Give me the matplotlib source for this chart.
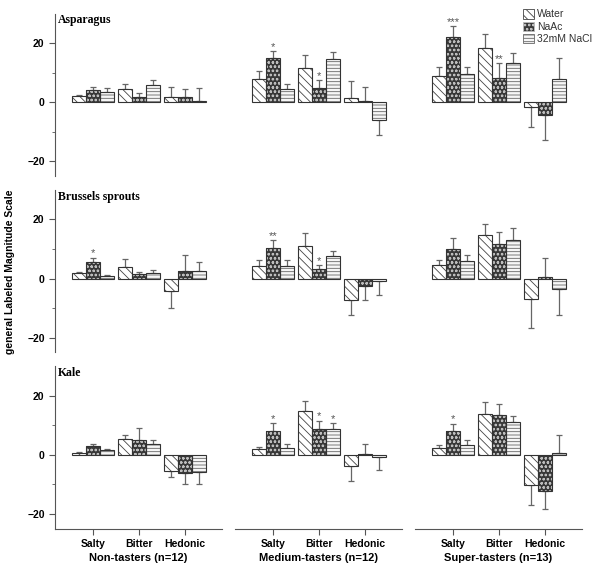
import matplotlib
matplotlib.use("Agg")
import matplotlib.pyplot as plt
from matplotlib.patches import Patch
import numpy as np

# data: [taster group][taste][solution]  solution order: Water, NaAc, 32mM NaCl
VEGETABLES = ["Asparagus", "Brussels sprouts", "Kale"]
TASTER_GROUPS = ["Non-tasters (n=12)", "Medium-tasters (n=12)", "Super-tasters (n=13)"]
TASTES = ["Salty", "Bitter", "Hedonic"]
SOLUTIONS = ["Water", "NaAc", "32mM NaCl"]

asparagus_mean = [[[1.9, 4.1, 3.3], [4.5, 1.8, 5.9], [1.6, 1.7, 0.5]],
                  [[7.7, 14.8, 4.3], [11.6, 4.7, 14.5], [1.5, 0.4, -5.9]],
                  [[8.9, 22.0, 9.4], [18.2, 8.2, 13.1], [-1.8, -4.4, 7.7]]]
asparagus_err = [[[0.5, 1.1, 1.6], [1.5, 1.4, 1.6], [3.6, 2.6, 4.4]],
                 [[2.8, 2.5, 1.7], [4.3, 2.8, 2.6], [5.7, 4.8, 5.3]],
                 [[3.1, 3.8, 2.6], [4.9, 4.9, 3.6], [6.8, 8.3, 7.3]]]
asparagus_sig = [[["", "", ""], ["", "", ""], ["", "", ""]],
                 [["", "*", ""], ["", "*", ""], ["", "", ""]],
                 [["", "***", ""], ["", "**", ""], ["", "", ""]]]

brussels_mean = [[[1.9, 5.5, 0.7], [4.0, 1.6, 1.7], [-4.3, 2.7, 2.5]],
                 [[4.4, 10.4, 4.2], [11.0, 3.3, 7.6], [-7.3, -2.6, -0.7]],
                 [[4.7, 10.1, 5.9], [14.9, 11.8, 13.2], [-7.1, 0.6, -3.7]]]
brussels_err = [[[0.4, 1.6, 0.4], [2.7, 0.7, 1.3], [5.6, 5.4, 3.1]],
                [[1.7, 2.6, 2.2], [4.5, 1.2, 1.7], [5.2, 4.7, 4.9]],
                [[1.7, 3.5, 2.2], [3.6, 4.0, 3.8], [9.8, 6.3, 8.6]]]
brussels_sig = [[["", "*", ""], ["", "", ""], ["", "", ""]],
                [["", "**", ""], ["", "*", ""], ["", "", ""]],
                [["", "", ""], ["", "", ""], ["", "", ""]]]

kale_mean = [[[0.8, 2.9, 1.6], [5.4, 5.2, 3.7], [-5.5, -6.1, -5.9]],
             [[2.0, 8.0, 2.4], [15.0, 8.7, 8.8], [-3.6, 0.2, -0.8]],
             [[2.3, 8.0, 3.2], [14.0, 13.4, 11.2], [-10.1, -12.1, 0.8]]]
kale_err = [[[0.3, 0.9, 0.5], [1.5, 4.0, 1.2], [2.0, 3.6, 3.8]],
            [[0.7, 2.8, 1.3], [3.2, 2.9, 2.0], [5.3, 3.6, 4.2]],
            [[1.1, 2.6, 1.7], [3.9, 4.0, 2.1], [7.0, 6.1, 5.8]]]
kale_sig = [[["", "", ""], ["", "", ""], ["", "", ""]],
            [["", "*", ""], ["", "*", "*"], ["", "", ""]],
            [["", "*", ""], ["", "", ""], ["", "", ""]]]

MEANS = [asparagus_mean, brussels_mean, kale_mean]
ERRS = [asparagus_err, brussels_err, kale_err]
SIGS = [asparagus_sig, brussels_sig, kale_sig]

# bar styles: (face, hatch colour, hatch)
STYLES = [("white", "#444444", "\\\\\\\\"),
          ("#383838", "#bdbdbd", "oooo"),
          ("#f6f6f6", "#666666", "-----")]
EDGE = "#333333"

plt.rcParams['font.family'] = ['Liberation Sans', 'DejaVu Sans']
plt.rcParams['hatch.linewidth'] = 0.6

fig, axes = plt.subplots(3, 3, figsize=(6, 5.76), dpi=100)
fig.subplots_adjust(left=55/600, right=582/600, top=1-13.5/576, bottom=1-528.75/576,
                    wspace=13/167, hspace=14/162.5)

x = np.arange(len(TASTES))
w = 0.30
for r in range(3):
    for c in range(3):
        ax = axes[r, c]
        mean = np.array(MEANS[r][c])
        err = np.array(ERRS[r][c])
        for k in range(3):
            xs = x + (k - 1) * w
            vals = mean[:, k]
            face, hcol, hatch = STYLES[k]
            ax.bar(xs, vals, w, color=face, edgecolor=hcol, hatch=hatch, linewidth=0, zorder=2)
            ax.bar(xs, vals, w, fill=False, edgecolor=EDGE, linewidth=0.8, zorder=3)
            lower = np.where(vals < 0, err[:, k], 0)
            upper = np.where(vals >= 0, err[:, k], 0)
            ax.errorbar(xs, vals, yerr=[lower, upper], fmt='none', ecolor='#666666',
                        elinewidth=0.9, capsize=2, capthick=0.9, zorder=1)
            for j in range(3):
                s = SIGS[r][c][j][k]
                if s:
                    ax.text(xs[j], vals[j] + err[j, k] - 0.3, s, ha='center', va='bottom',
                            fontsize=8, color='#555555')
        ax.set_xlim(-0.826, 2.80)
        ax.set_ylim(-25, 30)
        ax.spines['top'].set_visible(False)
        ax.spines['right'].set_visible(False)
        if c == 0:
            ax.spines['left'].set_color('#555555')
            ax.set_yticks([-20, 0, 20])
            ax.set_yticks([-10, 10], minor=True)
            ax.set_yticklabels(["\u221220", "0", "20"], fontsize=7.5, fontweight='bold')
            ax.tick_params(axis='y', which='major', length=4, color='#555555')
            ax.tick_params(axis='y', which='minor', length=2.5, color='#555555')
            ax.text(0.02, 0.995, VEGETABLES[r], transform=ax.transAxes, ha='left', va='top',
                    family=['Liberation Serif', 'DejaVu Serif'], fontweight='bold', fontsize=8.5)
        else:
            ax.spines['left'].set_visible(False)
            ax.set_yticks([])
        if r == 2:
            ax.spines['bottom'].set_color('#555555')
            ax.set_xticks(x)
            ax.set_xticklabels(TASTES, fontsize=7.5, fontweight='bold')
            ax.tick_params(axis='x', length=4, color='#555555')
            ax.set_xlabel(TASTER_GROUPS[c], fontsize=8, fontweight='bold', labelpad=3)
        else:
            ax.spines['bottom'].set_visible(False)
            ax.set_xticks([])

handles = [Patch(facecolor=s[0], edgecolor=s[1], hatch=s[2], linewidth=0.6) for s in STYLES]
fig.legend(handles, SOLUTIONS, loc='upper left', bbox_to_anchor=(518/600, 1-4/576),
           frameon=False, fontsize=7.5, handlelength=1.0, handleheight=1.0,
           handletextpad=0.35, labelspacing=0.2, borderpad=0, labelcolor='#333333')

fig.text(10/600, 1-271.6/576, "general Labeled Magnitude Scale", rotation=90,
         ha='center', va='center', fontsize=7.5, fontweight='bold')

plt.savefig("out.png", dpi=100)
